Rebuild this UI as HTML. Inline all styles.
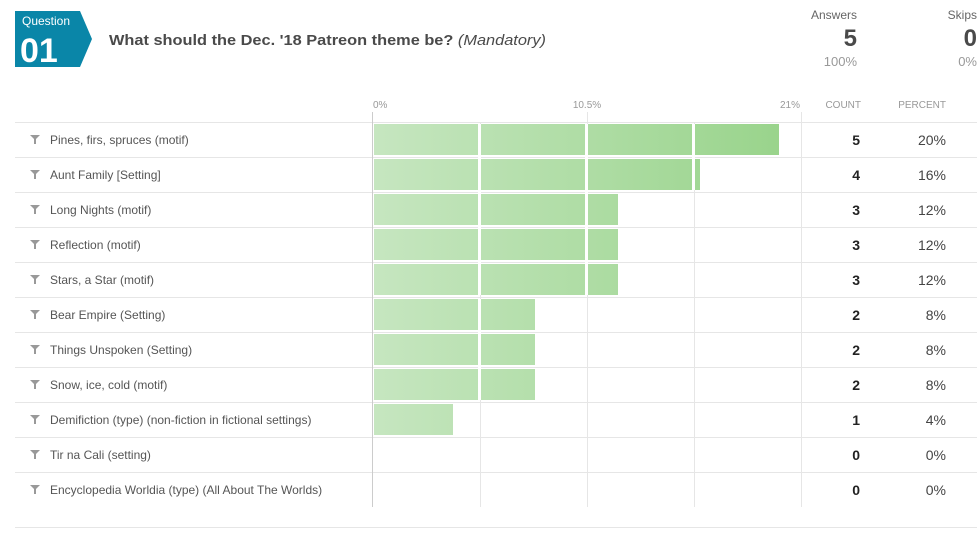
<!DOCTYPE html>
<html><head><meta charset="utf-8"><style>
html,body{margin:0;padding:0;background:#fff;width:977px;height:542px;overflow:hidden}
svg{display:block;font-family:"Liberation Sans",sans-serif}
</style></head><body>
<svg width="977" height="542" viewBox="0 0 977 542">
<defs><linearGradient id="g" gradientUnits="userSpaceOnUse" x1="373" x2="801" y1="0" y2="0"><stop offset="0" stop-color="#c6e6c0"/><stop offset="1" stop-color="#97d389"/></linearGradient></defs>
<polygon points="15,11 80,11 92,39 80,67 15,67" fill="#0a86a8"/>
<text x="22" y="25" font-size="12" fill="#fff">Question</text>
<text x="20" y="62" font-size="34" font-weight="bold" fill="#fff">01</text>
<text x="109" y="45" font-size="15" font-weight="bold" fill="#4a4a4a" textLength="437" lengthAdjust="spacingAndGlyphs">What should the Dec. '18 Patreon theme be? <tspan font-weight="normal" font-style="italic">(Mandatory)</tspan></text>
<g text-anchor="end">
<text x="857" y="19" font-size="12" fill="#666">Answers</text>
<text x="857" y="46" font-size="24" font-weight="bold" fill="#4a4a4a">5</text>
<text x="857" y="66" font-size="13" fill="#999">100%</text>
<text x="977" y="19" font-size="12" fill="#666">Skips</text>
<text x="977" y="46" font-size="24" font-weight="bold" fill="#4a4a4a">0</text>
<text x="977" y="66" font-size="13" fill="#999">0%</text>
<text x="861" y="108" font-size="10" fill="#999">COUNT</text>
<text x="946" y="108" font-size="10" fill="#999">PERCENT</text>
<text x="800" y="108" font-size="10" fill="#999">21%</text>
</g>
<text x="373" y="108" font-size="10" fill="#999">0%</text>
<text x="587" y="108" font-size="10" fill="#999" text-anchor="middle">10.5%</text>
<g stroke="#e6e6e6" stroke-width="1">
<line x1="15" x2="977" y1="122.5" y2="122.5"/><line x1="15" x2="977" y1="157.5" y2="157.5"/><line x1="15" x2="977" y1="192.5" y2="192.5"/><line x1="15" x2="977" y1="227.5" y2="227.5"/><line x1="15" x2="977" y1="262.5" y2="262.5"/><line x1="15" x2="977" y1="297.5" y2="297.5"/><line x1="15" x2="977" y1="332.5" y2="332.5"/><line x1="15" x2="977" y1="367.5" y2="367.5"/><line x1="15" x2="977" y1="402.5" y2="402.5"/><line x1="15" x2="977" y1="437.5" y2="437.5"/><line x1="15" x2="977" y1="472.5" y2="472.5"/>
<line x1="15" x2="977" y1="527.5" y2="527.5"/>
<line x1="480.5" x2="480.5" y1="122" y2="507"/><line x1="587.5" x2="587.5" y1="112" y2="507"/><line x1="694.5" x2="694.5" y1="122" y2="507"/><line x1="801.5" x2="801.5" y1="112" y2="507"/>
</g>
<line x1="372.5" x2="372.5" y1="112" y2="507" stroke="#ccc"/>
<g fill="url(#g)">
<rect x="374" y="124" width="405" height="31"/>
<rect x="374" y="159" width="326" height="31"/>
<rect x="374" y="194" width="244" height="31"/>
<rect x="374" y="229" width="244" height="31"/>
<rect x="374" y="264" width="244" height="31"/>
<rect x="374" y="299" width="161" height="31"/>
<rect x="374" y="334" width="161" height="31"/>
<rect x="374" y="369" width="161" height="31"/>
<rect x="374" y="404" width="79" height="31"/>
</g>
<g fill="#fff">
<rect x="478" y="124" width="3" height="171"/><rect x="585" y="124" width="3" height="171"/><rect x="692" y="124" width="3" height="66"/>
<rect x="478" y="299" width="3" height="101"/>
</g>
<g font-size="12" fill="#555">
<text x="50" y="144">Pines, firs, spruces (motif)</text>
<text x="50" y="179">Aunt Family [Setting]</text>
<text x="50" y="214">Long Nights (motif)</text>
<text x="50" y="249">Reflection (motif)</text>
<text x="50" y="284">Stars, a Star (motif)</text>
<text x="50" y="319">Bear Empire (Setting)</text>
<text x="50" y="354">Things Unspoken (Setting)</text>
<text x="50" y="389">Snow, ice, cold (motif)</text>
<text x="50" y="424">Demifiction (type) (non-fiction in fictional settings)</text>
<text x="50" y="459">Tir na Cali (setting)</text>
<text x="50" y="494">Encyclopedia Worldia (type) (All About The Worlds)</text>
</g>
<g fill="#999">
<path d="M30,135h10l-4,4v5h-2v-5z"/><path d="M30,170h10l-4,4v5h-2v-5z"/><path d="M30,205h10l-4,4v5h-2v-5z"/><path d="M30,240h10l-4,4v5h-2v-5z"/><path d="M30,275h10l-4,4v5h-2v-5z"/><path d="M30,310h10l-4,4v5h-2v-5z"/><path d="M30,345h10l-4,4v5h-2v-5z"/><path d="M30,380h10l-4,4v5h-2v-5z"/><path d="M30,415h10l-4,4v5h-2v-5z"/><path d="M30,450h10l-4,4v5h-2v-5z"/><path d="M30,485h10l-4,4v5h-2v-5z"/>
</g>
<g text-anchor="end" font-size="14">
<g font-weight="bold" fill="#222">
<text x="860" y="145">5</text><text x="860" y="180">4</text><text x="860" y="215">3</text><text x="860" y="250">3</text><text x="860" y="285">3</text><text x="860" y="320">2</text><text x="860" y="355">2</text><text x="860" y="390">2</text><text x="860" y="425">1</text><text x="860" y="460">0</text><text x="860" y="495">0</text>
</g>
<g fill="#444">
<text x="946" y="145">20%</text><text x="946" y="180">16%</text><text x="946" y="215">12%</text><text x="946" y="250">12%</text><text x="946" y="285">12%</text><text x="946" y="320">8%</text><text x="946" y="355">8%</text><text x="946" y="390">8%</text><text x="946" y="425">4%</text><text x="946" y="460">0%</text><text x="946" y="495">0%</text>
</g>
</g>
</svg>
</body></html>
